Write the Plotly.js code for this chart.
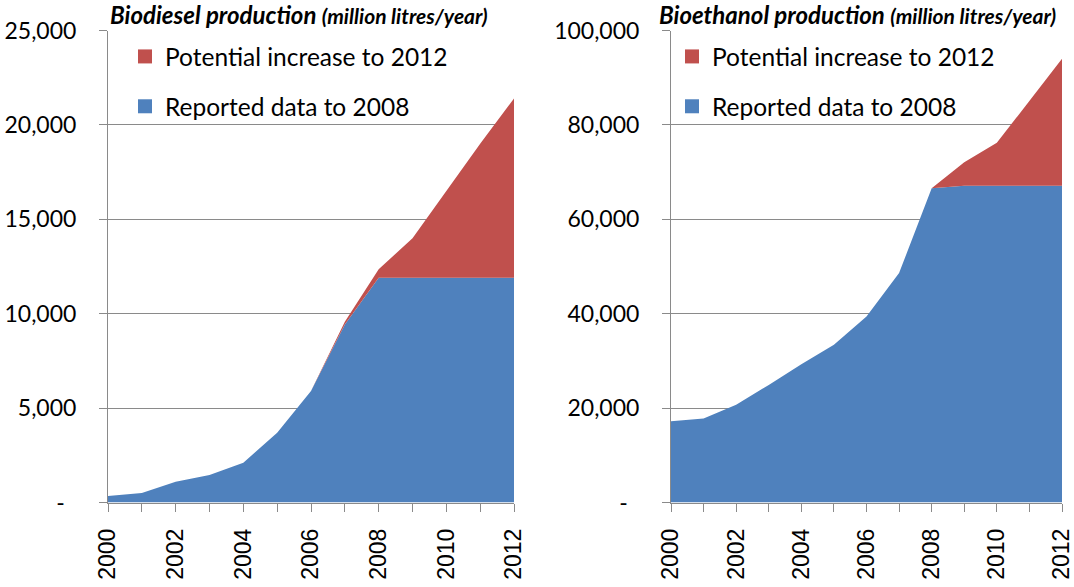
<!DOCTYPE html>
<html><head><meta charset="utf-8">
<script src="https://cdn.plot.ly/plotly-3.0.1.min.js"></script>
<style>html,body{margin:0;padding:0;background:#fff}#chart{width:1074px;height:587px}</style>
</head><body><div id="chart"></div>
<script>
const years = [2000,2001,2002,2003,2004,2005,2006,2007,2008,2009,2010,2011,2012];
const yearLabels = ['2000','','2002','','2004','','2006','','2008','','2010','','2012'];

const biodieselReported  = [350,500,1100,1450,2100,3700,5900,9430,11900,11900,11900,11900,11900];
const biodieselPotential = [0,0,0,0,0,0,0,150,450,2100,4600,7100,9500];

const bioethanolReported  = [17200,17800,20700,24900,29300,33400,39400,48600,66600,67100,67100,67100,67100];
const bioethanolPotential = [0,0,0,0,0,0,0,0,0,5000,9100,18000,26900];

const biodieselTickVals = [0,5000,10000,15000,20000,25000];
const biodieselTickText = ['-\u2002','5,000','10,000','15,000','20,000','25,000'];
const bioethanolTickVals = [0,20000,40000,60000,80000,100000];
const bioethanolTickText = ['-\u2002','20,000','40,000','60,000','80,000','100,000'];

const seriesReported = 'Reported data to 2008';
const seriesPotential = 'Potential increase to 2012';
const titleBiodiesel = 'Biodiesel production';
const titleBioethanol = 'Bioethanol production';
const titleUnit = '(million litres/year)';

const BLUE = '#4F81BD', RED = '#C0504D', GRID = '#8a8a8a';

function area(x, y, name, color, xa, ya, sg) {
  return {x: x, y: y, name: name, type: 'scatter', mode: 'lines', stackgroup: sg,
    line: {width: 0, color: color}, fillcolor: color, xaxis: xa, yaxis: ya,
    showlegend: false, hoverinfo: 'x+y+name'};
}
function legendItem(name, color, legend, rank) {
  return {x: [null], y: [null], name: name, type: 'scatter', mode: 'markers',
    marker: {symbol: 'square', size: 14, color: color}, legend: legend,
    legendrank: rank, legendgroup: legend + rank, showlegend: true,
    xaxis: legend === 'legend' ? 'x' : 'x2', yaxis: legend === 'legend' ? 'y' : 'y2'};
}

const data = [
  area(years, biodieselReported, seriesReported, BLUE, 'x', 'y', 'bd'),
  area(years, biodieselPotential, seriesPotential, RED, 'x', 'y', 'bd'),
  area(years, bioethanolReported, seriesReported, BLUE, 'x2', 'y2', 'be'),
  area(years, bioethanolPotential, seriesPotential, RED, 'x2', 'y2', 'be'),
  legendItem(seriesPotential, RED, 'legend', 1),
  legendItem(seriesReported, BLUE, 'legend', 2),
  legendItem(seriesPotential, RED, 'legend2', 1),
  legendItem(seriesReported, BLUE, 'legend2', 2)
];

const W = 1074, H = 587;
const yDom = [(H - 502.5) / H, (H - 30.5) / H];

function xAxis(dom, anchor) {
  return {domain: dom, anchor: anchor, range: [2000, 2012], tickmode: 'array',
    tickvals: years, ticktext: yearLabels, ticks: 'outside', ticklen: 8, tickwidth: 1,
    tickcolor: GRID, showline: true, linecolor: GRID, linewidth: 1, showgrid: false,
    zeroline: false, tickangle: -90, ticklabelstandoff: 8, ticklabeloverflow: 'allow',
    tickfont: {family: 'Liberation Sans, Arial, sans-serif', size: 23, color: '#000'},
    fixedrange: true};
}
function yAxis(range, vals, text, anchor) {
  return {domain: yDom, anchor: anchor, range: range, tickmode: 'array',
    tickvals: vals, ticktext: text, ticks: 'outside', ticklen: 8, tickwidth: 1,
    tickcolor: GRID, showline: true, linecolor: GRID, linewidth: 1, showgrid: true,
    gridcolor: GRID, gridwidth: 1, zeroline: false, ticklabelstandoff: 18,
    ticklabeloverflow: 'allow',
    tickfont: {family: 'Lato, Calibri, sans-serif', size: 23, color: '#000'},
    fixedrange: true};
}
function legendCfg(px) {
  return {x: px / W, xanchor: 'left', y: (H - 34) / H, yanchor: 'top',
    bgcolor: 'rgba(0,0,0,0)', borderwidth: 0, tracegroupgap: 15,
    font: {family: 'Lato, Calibri, sans-serif', size: 24.5, color: '#000'},
    itemclick: false, itemdoubleclick: false};
}
function title(text, px) {
  return {text: '<b><i>' + text + ' <span style="font-size:21px">' + titleUnit + '</span></i></b>',
    xref: 'paper', yref: 'paper', x: px / W, xanchor: 'left', y: (H - 14) / H, yanchor: 'middle',
    showarrow: false, font: {family: 'Lato, Calibri, sans-serif', size: 24, color: '#000'}};
}

const layout = {
  width: W, height: H, margin: {l: 0, r: 0, t: 0, b: 0},
  paper_bgcolor: '#fff', plot_bgcolor: '#fff', hovermode: false,
  xaxis: xAxis([108 / W, 514 / W], 'y'),
  yaxis: yAxis([0, 25000], biodieselTickVals, biodieselTickText, 'x'),
  xaxis2: xAxis([671 / W, 1062 / W], 'y2'),
  yaxis2: yAxis([0, 100000], bioethanolTickVals, bioethanolTickText, 'x2'),
  legend: legendCfg(125),
  legend2: legendCfg(672),
  annotations: [title(titleBiodiesel, 108), title(titleBioethanol, 657)]
};

Plotly.newPlot('chart', data, layout, {displayModeBar: false, staticPlot: true});
</script></body></html>
